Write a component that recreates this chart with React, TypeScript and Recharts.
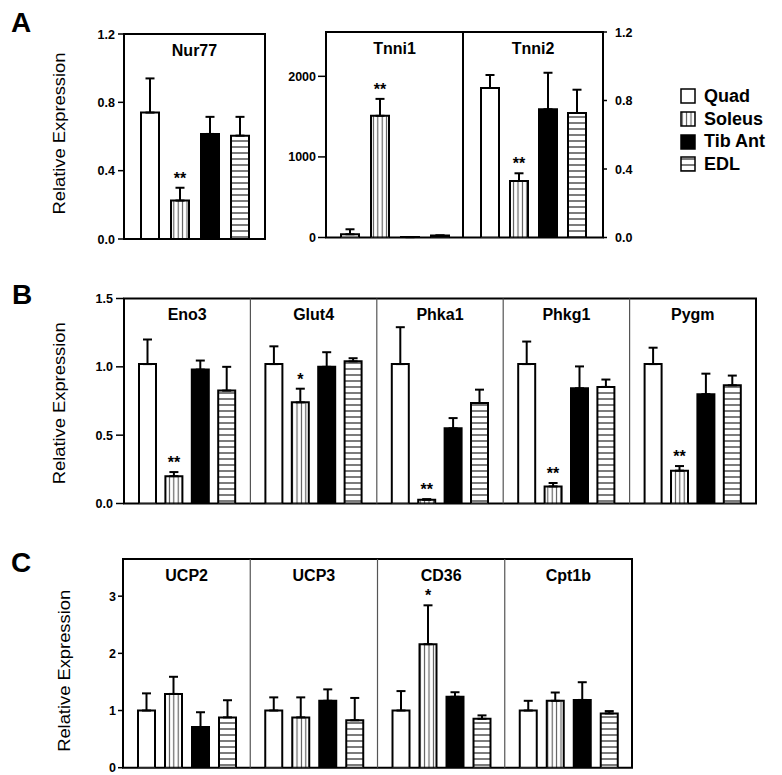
import React from 'react';
import { BarChart, Bar, XAxis, YAxis, ErrorBar, LabelList, ReferenceArea, ReferenceLine, Legend } from 'recharts';

const FONT = "'Liberation Sans', Arial, Helvetica, sans-serif";

const tissueOrder = ['Quad', 'Soleus', 'Tib Ant', 'EDL'];

// ---------- Panel A : Nur77 ----------
const nur77Genes = ['Nur77'];
const nur77Quad = [0.74];
const nur77QuadErr = [0.2];
const nur77Soleus = [0.225];
const nur77SoleusErr = [0.075];
const nur77TibAnt = [0.615];
const nur77TibAntErr = [0.1];
const nur77Edl = [0.605];
const nur77EdlErr = [0.11];
const nur77Stars = ['**'];

// ---------- Panel A : Tnni1 ----------
const tnni1Genes = ['Tnni1'];
const tnni1Quad = [40];
const tnni1QuadErr = [62];
const tnni1Soleus = [1510];
const tnni1SoleusErr = [210];
const tnni1TibAnt = [5];
const tnni1TibAntErr = [0];
const tnni1Edl = [25];
const tnni1EdlErr = [0];
const tnni1Stars = ['**'];

// ---------- Panel A : Tnni2 ----------
const tnni2Genes = ['Tnni2'];
const tnni2Quad = [0.873];
const tnni2QuadErr = [0.076];
const tnni2Soleus = [0.33];
const tnni2SoleusErr = [0.045];
const tnni2TibAnt = [0.749];
const tnni2TibAntErr = [0.213];
const tnni2Edl = [0.727];
const tnni2EdlErr = [0.136];
const tnni2Stars = ['**'];

// ---------- Panel B ----------
const bGenes = ['Eno3', 'Glut4', 'Phka1', 'Phkg1', 'Pygm'];
const bQuad = [1.02, 1.02, 1.02, 1.02, 1.02];
const bQuadErr = [0.18, 0.13, 0.27, 0.165, 0.12];
const bSoleus = [0.2, 0.74, 0.027, 0.125, 0.24];
const bSoleusErr = [0.03, 0.1, 0.005, 0.025, 0.034];
const bTibAnt = [0.98, 1.0, 0.55, 0.843, 0.8];
const bTibAntErr = [0.066, 0.107, 0.075, 0.16, 0.15];
const bEdl = [0.826, 1.04, 0.735, 0.853, 0.865];
const bEdlErr = [0.174, 0.023, 0.098, 0.054, 0.071];
const bStars = ['**', '*', '**', '**', '**'];

// ---------- Panel C ----------
const cGenes = ['UCP2', 'UCP3', 'CD36', 'Cpt1b'];
const cQuad = [1.0, 1.0, 1.0, 1.0];
const cQuadErr = [0.3, 0.23, 0.34, 0.17];
const cSoleus = [1.29, 0.88, 2.16, 1.17];
const cSoleusErr = [0.3, 0.35, 0.68, 0.145];
const cTibAnt = [0.71, 1.17, 1.24, 1.185];
const cTibAntErr = [0.26, 0.2, 0.08, 0.31];
const cEdl = [0.88, 0.83, 0.855, 0.95];
const cEdlErr = [0.3, 0.39, 0.06, 0.04];
const cStars = ['', '', '*', ''];

function buildRows(
  genes: string[], quad: number[], quadErr: number[], sol: number[], solErr: number[],
  tib: number[], tibErr: number[], edl: number[], edlErr: number[], stars: string[]
) {
  return genes.map((gene, i) => ({
    gene,
    quad: quad[i], quadErr: [0, quadErr[i]],
    soleus: sol[i], soleusErr: [0, solErr[i]],
    tibAnt: tib[i], tibAntErr: [0, tibErr[i]],
    edl: edl[i], edlErr: [0, edlErr[i]],
    star: { text: stars[i], ratio: sol[i] > 0 ? solErr[i] / sol[i] : 0 },
  }));
}

const nur77Rows = buildRows(nur77Genes, nur77Quad, nur77QuadErr, nur77Soleus, nur77SoleusErr, nur77TibAnt, nur77TibAntErr, nur77Edl, nur77EdlErr, nur77Stars);
const tnni1Rows = buildRows(tnni1Genes, tnni1Quad, tnni1QuadErr, tnni1Soleus, tnni1SoleusErr, tnni1TibAnt, tnni1TibAntErr, tnni1Edl, tnni1EdlErr, tnni1Stars);
const tnni2Rows = buildRows(tnni2Genes, tnni2Quad, tnni2QuadErr, tnni2Soleus, tnni2SoleusErr, tnni2TibAnt, tnni2TibAntErr, tnni2Edl, tnni2EdlErr, tnni2Stars);
const bRows = buildRows(bGenes, bQuad, bQuadErr, bSoleus, bSoleusErr, bTibAnt, bTibAntErr, bEdl, bEdlErr, bStars);
const cRows = buildRows(cGenes, cQuad, cQuadErr, cSoleus, cSoleusErr, cTibAnt, cTibAntErr, cEdl, cEdlErr, cStars);

function patternDefs(id: string) {
  return (
    <defs>
      <pattern id={`${id}-sol`} patternUnits="userSpaceOnUse" width={4.4} height={8}>
        <rect width={4.4} height={8} fill="#fff" />
        <line x1={2.2} y1={0} x2={2.2} y2={8} stroke="#555" strokeWidth={1.1} />
      </pattern>
      <pattern id={`${id}-edl`} patternUnits="userSpaceOnUse" width={8} height={6}>
        <rect width={8} height={6} fill="#fff" />
        <line x1={0} y1={3} x2={8} y2={3} stroke="#444" strokeWidth={1.4} />
      </pattern>
    </defs>
  );
}

const TitleTick = (props: any) => {
  const { x, y, payload } = props;
  return (
    <text x={x} y={y + 21.5} textAnchor="middle" fontSize={16} fontWeight={700} fill="#000">
      {payload.value}
    </text>
  );
};

const ValueTick = (props: any) => {
  const { x, y, payload, textAnchor, tickFormatter } = props;
  const label = tickFormatter ? tickFormatter(payload.value) : payload.value;
  return (
    <text x={x} y={y} dy="0.36em" textAnchor={textAnchor} fontSize={12.5} fontWeight={700} fill="#000">
      {label}
    </text>
  );
};

const StarLabel = (props: any) => {
  const vb = props.viewBox || props;
  const v = props.value;
  if (!v || !v.text) return null;
  const { x, y, width, height } = vb;
  const errTop = y - Math.abs(height) * v.ratio;
  return (
    <text x={x + width / 2} y={errTop - 4} textAnchor="middle" fontSize={16} fontWeight={700} fill="#000">
      {v.text}
    </text>
  );
};

const YLabel = (props: any) => {
  const vb = props.viewBox || { x: 0, y: 0, width: 0, height: 0 };
  const cy = vb.y + vb.height / 2 + (props.shiftY || 0);
  return (
    <text
      transform={`translate(${props.bx},${cy}) rotate(-90)`}
      textAnchor="middle"
      fontSize={16}
      fill="#000"
      textLength={162}
      lengthAdjust="spacingAndGlyphs"
    >
      Relative Expression
    </text>
  );
};

const LegendContent = (props: any) => {
  const payload = [...(props.payload || [])].sort(
    (a: any, b: any) => tissueOrder.indexOf(a.value) - tissueOrder.indexOf(b.value)
  );
  return (
    <div style={{ fontFamily: FONT }}>
      {payload.map((e: any) => (
        <div key={e.value} style={{ display: 'flex', alignItems: 'center', height: 22.7, fontSize: 18, fontWeight: 700, color: '#000', whiteSpace: 'nowrap' }}>
          <svg width={16} height={16} style={{ marginRight: 8, flex: 'none' }}>
            <rect x={1} y={1} width={14} height={14} fill={e.color} stroke="#000" strokeWidth={1.5} />
          </svg>
          <span>{e.value}</span>
        </div>
      ))}
    </div>
  );
};

const TITLE_AXIS_H = 20;

function GeneChart(p: any) {
  const {
    id, rows, width, height, margin, domain, ticks, decimals, orientation = 'left', yWidth,
    tickSize, tickMargin, barSize, barGap, yLabel, separators, legend,
  } = p;
  const m = { ...margin, top: margin.top - TITLE_AXIS_H };
  return (
    <BarChart width={width} height={height} data={rows} margin={m} barSize={barSize} barGap={barGap}>
      {patternDefs(id)}
      <XAxis
        dataKey="gene" orientation="top" height={TITLE_AXIS_H}
        axisLine={false} tickLine={false} tickSize={0} tickMargin={0} interval={0} tick={TitleTick}
      />
      <YAxis
        orientation={orientation} width={yWidth} domain={domain} ticks={ticks} interval={0}
        allowDataOverflow axisLine={false}
        tickLine={{ stroke: '#000', strokeWidth: 1.5 }}
        tickSize={tickSize} tickMargin={tickMargin}
        tick={<ValueTick />}
        tickFormatter={(v: number) => v.toFixed(decimals)}
        label={yLabel ? (lp: any) => <YLabel {...lp} bx={yLabel.x} shiftY={yLabel.dy} /> : undefined}
      />
      <ReferenceArea y1={domain[0]} y2={domain[1]} fill="none" stroke="#000" strokeWidth={2} ifOverflow="visible" />
      {separators &&
        rows.slice(1).map((r: any) => (
          <ReferenceLine key={r.gene} x={r.gene} position="start" stroke="#555" strokeWidth={1.2} />
        ))}
      <Bar dataKey="quad" name="Quad" fill="#fff" stroke="#000" strokeWidth={2} isAnimationActive={false}>
        <ErrorBar dataKey="quadErr" width={4.5} stroke="#000" strokeWidth={2} direction="y" />
      </Bar>
      <Bar dataKey="soleus" name="Soleus" fill={`url(#${id}-sol)`} stroke="#000" strokeWidth={2} isAnimationActive={false}>
        <ErrorBar dataKey="soleusErr" width={4.5} stroke="#000" strokeWidth={2} direction="y" />
        <LabelList dataKey="star" content={StarLabel} />
      </Bar>
      <Bar dataKey="tibAnt" name="Tib Ant" fill="#000" stroke="#000" strokeWidth={2} isAnimationActive={false}>
        <ErrorBar dataKey="tibAntErr" width={4.5} stroke="#000" strokeWidth={2} direction="y" />
      </Bar>
      <Bar dataKey="edl" name="EDL" fill={`url(#${id}-edl)`} stroke="#000" strokeWidth={2} isAnimationActive={false}>
        <ErrorBar dataKey="edlErr" width={4.5} stroke="#000" strokeWidth={2} direction="y" />
      </Bar>
      {legend && (
        <Legend
          layout="vertical" align="center" verticalAlign="middle"
          itemSorter={(e: any) => tissueOrder.indexOf(e.value)}
          wrapperStyle={{ left: legend.left, top: legend.top, width: 110 }}
          content={LegendContent}
        />
      )}
    </BarChart>
  );
}

const letterStyle: React.CSSProperties = {
  position: 'absolute', fontSize: 28, fontWeight: 700, lineHeight: '28px', color: '#000', fontFamily: FONT,
};

export default function App() {
  return (
    <div style={{ position: 'absolute', left: 0, top: 0, width: 782, height: 775, background: '#fff', fontFamily: FONT, overflow: 'hidden' }}>
      <div style={{ ...letterStyle, left: 11, top: 9 }}>A</div>
      <div style={{ ...letterStyle, left: 12, top: 281 }}>B</div>
      <div style={{ ...letterStyle, left: 11, top: 549 }}>C</div>

      <div style={{ position: 'absolute', left: 0, top: 0 }}>
        <GeneChart
          id="nur77" rows={nur77Rows} width={270} height={250}
          margin={{ top: 34, right: 5, bottom: 11, left: 0 }}
          domain={[0, 1.2]} ticks={[0, 0.4, 0.8, 1.2]} decimals={1}
          yWidth={124} tickSize={6} tickMargin={3} barSize={18} barGap={12}
          yLabel={{ x: 65, dy: -3 }}
        />
      </div>
      <div style={{ position: 'absolute', left: 270, top: 0 }}>
        <GeneChart
          id="tnni1" rows={tnni1Rows} width={193} height={250}
          margin={{ top: 32, right: 0, bottom: 12.5, left: 0 }}
          domain={[0, 2550]} ticks={[0, 1000, 2000]} decimals={0}
          yWidth={56} tickSize={8} tickMargin={2} barSize={18} barGap={12}
        />
      </div>
      <div style={{ position: 'absolute', left: 463, top: 0 }}>
        <GeneChart
          id="tnni2" rows={tnni2Rows} width={319} height={250}
          margin={{ top: 32, right: 139, bottom: 12.5, left: 0 }}
          domain={[0, 1.2]} ticks={[0, 0.4, 0.8, 1.2]} decimals={1} orientation="right"
          yWidth={40} tickSize={4} tickMargin={8} barSize={18} barGap={11}
          legend={{ left: 217, top: 85 }}
        />
      </div>

      <div style={{ position: 'absolute', left: 0, top: 270 }}>
        <GeneChart
          id="panelB" rows={bRows} width={760} height={245}
          margin={{ top: 28.5, right: 4, bottom: 11.5, left: 0 }}
          domain={[0, 1.5]} ticks={[0, 0.5, 1, 1.5]} decimals={1}
          yWidth={124} tickSize={8} tickMargin={3} barSize={17} barGap={9.4}
          yLabel={{ x: 65, dy: 2.3 }} separators
        />
      </div>

      <div style={{ position: 'absolute', left: 0, top: 540 }}>
        <GeneChart
          id="panelC" rows={cRows} width={640} height={235}
          margin={{ top: 19, right: 8, bottom: 7.3, left: 0 }}
          domain={[0, 3.65]} ticks={[0, 1, 2, 3]} decimals={0}
          yWidth={123} tickSize={5} tickMargin={2} barSize={17} barGap={10}
          yLabel={{ x: 70, dy: 7.5 }} separators
        />
      </div>
    </div>
  );
}
